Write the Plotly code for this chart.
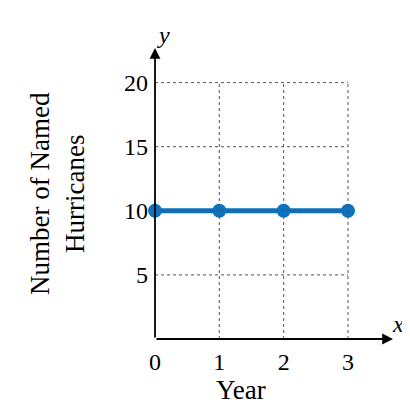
import plotly.graph_objects as go

years = [0, 1, 2, 3]
hurricanes = [10, 10, 10, 10]
x_ticks = [0, 1, 2, 3]
y_ticks = [5, 10, 15, 20]

F = "Liberation Serif"
fig = go.Figure()
fig.add_trace(go.Scatter(x=years, y=hurricanes, mode="lines+markers",
                         line=dict(color="#0a72c0", width=5),
                         marker=dict(color="#0a72c0", size=14), cliponaxis=False))
shapes = []
for v in x_ticks[1:]:
    shapes.append(dict(type="line", x0=v, x1=v, y0=0, y1=20, line=dict(color="#555", width=1, dash="dot")))
for v in y_ticks:
    shapes.append(dict(type="line", x0=0, x1=3, y0=v, y1=v, line=dict(color="#555", width=1, dash="dot")))
fig.update_layout(shapes=shapes)
fig.add_annotation(x=3.7, y=0, ax=0, ay=0, axref="x", ayref="y", xref="x", yref="y",
                   showarrow=True, arrowhead=2, arrowsize=1.2, arrowwidth=1.8, arrowcolor="black", text="")
fig.add_annotation(x=0, y=22.7, ax=0, ay=0, axref="x", ayref="y", xref="x", yref="y",
                   showarrow=True, arrowhead=2, arrowsize=1.2, arrowwidth=1.8, arrowcolor="black", text="")
fig.add_annotation(x=1.055, y=0, xref="paper", yref="paper", text="<i>x</i>", showarrow=False,
                   font=dict(family=F, size=24, color="black"))
fig.add_annotation(x=0, y=1.095, xref="paper", yref="paper", text="<i>y</i>", showarrow=False,
                   font=dict(family=F, size=24, color="black"))
fig.add_annotation(x=-0.41, y=0.5, xref="paper", yref="paper", text="Number of Named<br>Hurricanes",
                   textangle=-90, showarrow=False, xanchor="center", font=dict(family=F, size=27, color="black"))
fig.add_annotation(x=0.36, y=-0.235, xref="paper", yref="paper", text="Year",
                   showarrow=False, font=dict(family=F, size=27, color="black"))
fig.update_xaxes(range=[0, 3.7], tickvals=x_ticks, showgrid=False, zeroline=False, showline=False,
                 tickfont=dict(family=F, size=24, color="black"), ticks="", ticklabelstandoff=6, automargin=False)
fig.update_yaxes(range=[0, 22.7], tickvals=y_ticks, showgrid=False, zeroline=False, showline=False,
                 tickfont=dict(family=F, size=24, color="black"), ticks="", ticklabelstandoff=6, automargin=False)
fig.update_layout(width=410, height=414, margin=dict(l=147, r=25, t=40, b=83),
                  plot_bgcolor="white", paper_bgcolor="white", showlegend=False)
fig.write_html("out.html")
